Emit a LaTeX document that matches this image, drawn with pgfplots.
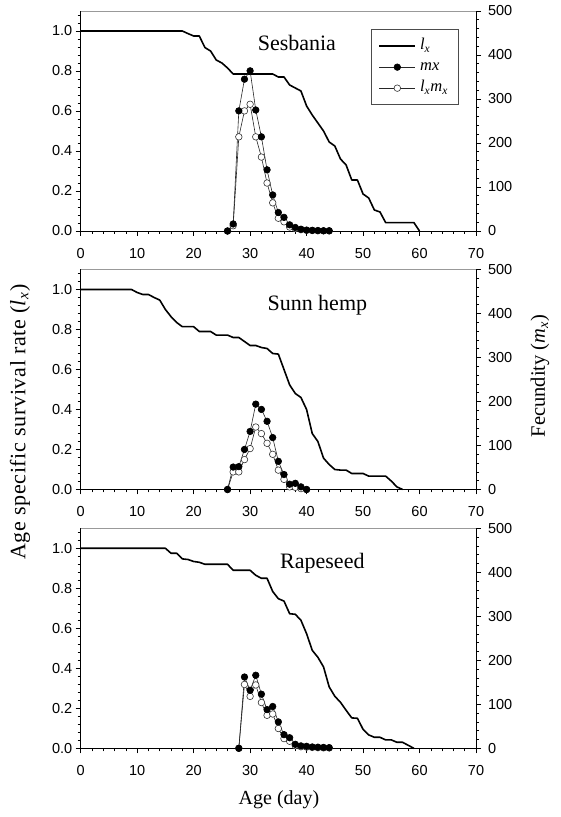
\documentclass[border=0pt]{standalone}
\usepackage{fontspec}
\setmainfont{Liberation Serif}
\newfontfamily\arial{Liberation Sans}
\usepackage{pgfplots}
\usepackage{pgfplotstable}
\pgfplotsset{compat=1.18}

% ---------- Sesbania ----------
\pgfplotstableread{
day lx
0 1.0
1 1.0
2 1.0
3 1.0
4 1.0
5 1.0
6 1.0
7 1.0
8 1.0
9 1.0
10 1.0
11 1.0
12 1.0
13 1.0
14 1.0
15 1.0
16 1.0
17 1.0
18 1.0
19 0.987
20 0.975
21 0.975
22 0.917
23 0.900
24 0.855
25 0.840
26 0.815
27 0.785
28 0.785
29 0.785
30 0.785
31 0.785
32 0.785
33 0.785
34 0.785
35 0.770
36 0.770
37 0.730
38 0.715
39 0.700
40 0.625
41 0.580
42 0.540
43 0.500
44 0.445
45 0.425
46 0.360
47 0.330
48 0.255
49 0.255
50 0.185
51 0.165
52 0.105
53 0.095
54 0.042
55 0.042
56 0.042
57 0.042
58 0.042
59 0.042
60 0
}\sesLx
\pgfplotstableread{
day mx lxmx
26 0 0
27 16 12
28 273 214
29 345 273
30 364 288
31 275 214
32 214 168
33 139 109
34 82 64
35 42 29
36 31 21
37 14 9
38 8 5.5
39 4 3
40 2 1.5
41 1.5 1
42 1 0.7
43 0.5 0.4
44 0.5 0.3
}\sesMx

% ---------- Sunn hemp ----------
\pgfplotstableread{
day lx
0 1.0
1 1.0
2 1.0
3 1.0
4 1.0
5 1.0
6 1.0
7 1.0
8 1.0
9 1.0
10 0.985
11 0.975
12 0.975
13 0.960
14 0.947
15 0.900
16 0.864
17 0.835
18 0.814
19 0.814
20 0.814
21 0.790
22 0.790
23 0.790
24 0.772
25 0.772
26 0.772
27 0.760
28 0.760
29 0.740
30 0.720
31 0.720
32 0.710
33 0.705
34 0.680
35 0.677
36 0.600
37 0.523
38 0.480
39 0.460
40 0.400
41 0.280
42 0.240
43 0.157
44 0.125
45 0.100
46 0.097
47 0.097
48 0.080
49 0.080
50 0.080
51 0.067
52 0.067
53 0.067
54 0.067
55 0.042
56 0.013
57 0
}\sunLx
\pgfplotstableread{
day mx lxmx
26 0 0
27 51 40
28 52 40
29 91 68
30 132 93
31 194 142
32 182 127
33 155 105
34 118 80
35 64 44
36 34 23
37 12 6
38 14 5
39 6 2
40 0 0
}\sunMx

% ---------- Rapeseed ----------
\pgfplotstableread{
day lx
0 1.0
1 1.0
2 1.0
3 1.0
4 1.0
5 1.0
6 1.0
7 1.0
8 1.0
9 1.0
10 1.0
11 1.0
12 1.0
13 1.0
14 1.0
15 1.0
16 0.975
17 0.975
18 0.947
19 0.944
20 0.934
21 0.930
22 0.920
23 0.920
24 0.920
25 0.920
26 0.920
27 0.890
28 0.890
29 0.890
30 0.890
31 0.865
32 0.850
33 0.850
34 0.784
35 0.748
36 0.736
37 0.673
38 0.670
39 0.640
40 0.573
41 0.490
42 0.455
43 0.407
44 0.307
45 0.260
46 0.230
47 0.190
48 0.152
49 0.150
50 0.095
51 0.067
52 0.055
53 0.055
54 0.042
55 0.042
56 0.030
57 0.030
58 0.015
59 0
}\rapLx
\pgfplotstableread{
day mx lxmx
28 0 0
29 162 145
30 132 118
31 166 144
32 123 104
33 88 75
34 95 78
35 60 45
36 31 22
37 24 16
38 9 6
39 5.5 3.6
40 4.5 2.7
41 3 2
42 2.5 1.5
43 2 1
44 1.5 0.8
}\rapMx

\pgfplotsset{
  common/.style={
    scale only axis, width=395.3pt, height=220pt, anchor=south west,
    xmin=0, xmax=70, clip=false,
    tick align=outside, major tick length=5pt, minor tick length=3pt,
    tick style={line width=0.6pt, black},
    /pgf/number format/assume math mode=true,
    ticklabel style={font=\arial\fontsize{14.5}{16}\selectfont},
  },
  leftax/.style={common,
    ymin=0, ymax=1.1,
    axis x line*=bottom, axis y line*=left,
    x axis line style={-, line width=0.8pt},
    y axis line style={-, line width=0.8pt},
    xtick={0,10,...,70}, minor xtick={2,4,...,68},
    ytick={0,0.2,0.4,0.6,0.8,1.0}, minor ytick={0.04,0.08,...,1.09},
    yticklabel style={/pgf/number format/.cd, fixed, fixed zerofill, precision=1},
    xticklabel style={yshift=-8.5pt},
  },
  rightax/.style={common,
    ymin=0, ymax=500,
    axis x line=none, axis y line*=right,
    y axis line style={-, line width=0.8pt},
    ytick={0,100,...,500}, minor ytick={20,40,...,480},
    yticklabel style={xshift=3.5pt},
  },
  lxstyle/.style={black, line width=1.6pt, line join=round, mark=none},
  mxstyle/.style={black!85, line width=0.6pt, mark=*, mark size=3.3pt, mark options={fill=black, draw=black}},
  lmstyle/.style={black!85, line width=0.6pt, mark=*, mark size=3.3pt, mark options={fill=white, draw=black!80}},
}

\begin{document}
\begin{tikzpicture}[x=1pt,y=1pt]
\useasboundingbox (0,0) rectangle (561,817);

% ===== Panel 1: Sesbania =====
\begin{axis}[leftax, at={(80.7pt,586pt)}]
  \addplot[lxstyle] table[x=day,y=lx] {\sesLx};
  \draw[black!40, line width=0.8pt] (rel axis cs:0,1) -- (rel axis cs:1,1);
  \node[anchor=base west, font=\fontsize{22}{24}\selectfont] at (rel axis cs:0.439,0.8195) {Sesbania};
\end{axis}
\begin{axis}[rightax, at={(80.7pt,586pt)},
  legend image code/.code={\draw[mark repeat=2,mark phase=2,#1] plot coordinates {(0pt,0pt) (18pt,0pt) (36pt,0pt)};},
  legend style={at={(rel axis cs:0.9577,0.917)}, anchor=north east, draw=black!70, line width=0.8pt,
    font=\fontsize{16.5}{18}\selectfont, row sep=6pt, inner xsep=7pt, inner ysep=9pt,
    nodes={inner xsep=4pt, inner ysep=0pt, text height=11pt, text depth=4pt}},
  legend cell align=left]
  \addlegendimage{lxstyle}
  \addlegendentry{\textit{l}\textsubscript{\textit{x}}}
  \addlegendimage{mxstyle}
  \addlegendentry{\textit{mx}}
  \addlegendimage{lmstyle}
  \addlegendentry{\textit{l}\textsubscript{\textit{x}}\textit{m}\textsubscript{\textit{x}}}
  \addplot[lmstyle, forget plot] table[x=day,y=lxmx] {\sesMx};
  \addplot[mxstyle, forget plot] table[x=day,y=mx] {\sesMx};
\end{axis}

% ===== Panel 2: Sunn hemp =====
\begin{axis}[leftax, at={(80.7pt,327.5pt)}]
  \addplot[lxstyle] table[x=day,y=lx] {\sunLx};
  \draw[black!40, line width=0.8pt] (rel axis cs:0,1) -- (rel axis cs:1,1);
  \node[anchor=base west, font=\fontsize{22}{24}\selectfont] at (rel axis cs:0.4637,0.8127) {Sunn hemp};
\end{axis}
\begin{axis}[rightax, at={(80.7pt,327.5pt)}]
  \addplot[lmstyle] table[x=day,y=lxmx] {\sunMx};
  \addplot[mxstyle] table[x=day,y=mx] {\sunMx};
\end{axis}

% ===== Panel 3: Rapeseed =====
\begin{axis}[leftax, at={(80.7pt,68.7pt)}]
  \addplot[lxstyle] table[x=day,y=lx] {\rapLx};
  \draw[black!40, line width=0.8pt] (rel axis cs:0,1) -- (rel axis cs:1,1);
  \node[anchor=base west, font=\fontsize{22}{24}\selectfont] at (rel axis cs:0.4958,0.8195) {Rapeseed};
\end{axis}
\begin{axis}[rightax, at={(80.7pt,68.7pt)}]
  \addplot[lmstyle] table[x=day,y=lxmx] {\rapMx};
  \addplot[mxstyle] table[x=day,y=mx] {\rapMx};
\end{axis}

% shared axis labels
\node[rotate=90, font=\fontsize{22}{24}\selectfont\addfontfeatures{LetterSpace=3}] at (20,395) {Age specific survival rate (\textit{l}\textsubscript{\textit{x}})};
\node[rotate=90, font=\fontsize{20.5}{22}\selectfont] at (540,441) {Fecundity (\textit{m}\textsubscript{\textit{x}})};
\node[font=\fontsize{20}{22}\selectfont] at (279,17) {Age (day)};
\end{tikzpicture}
\end{document}
